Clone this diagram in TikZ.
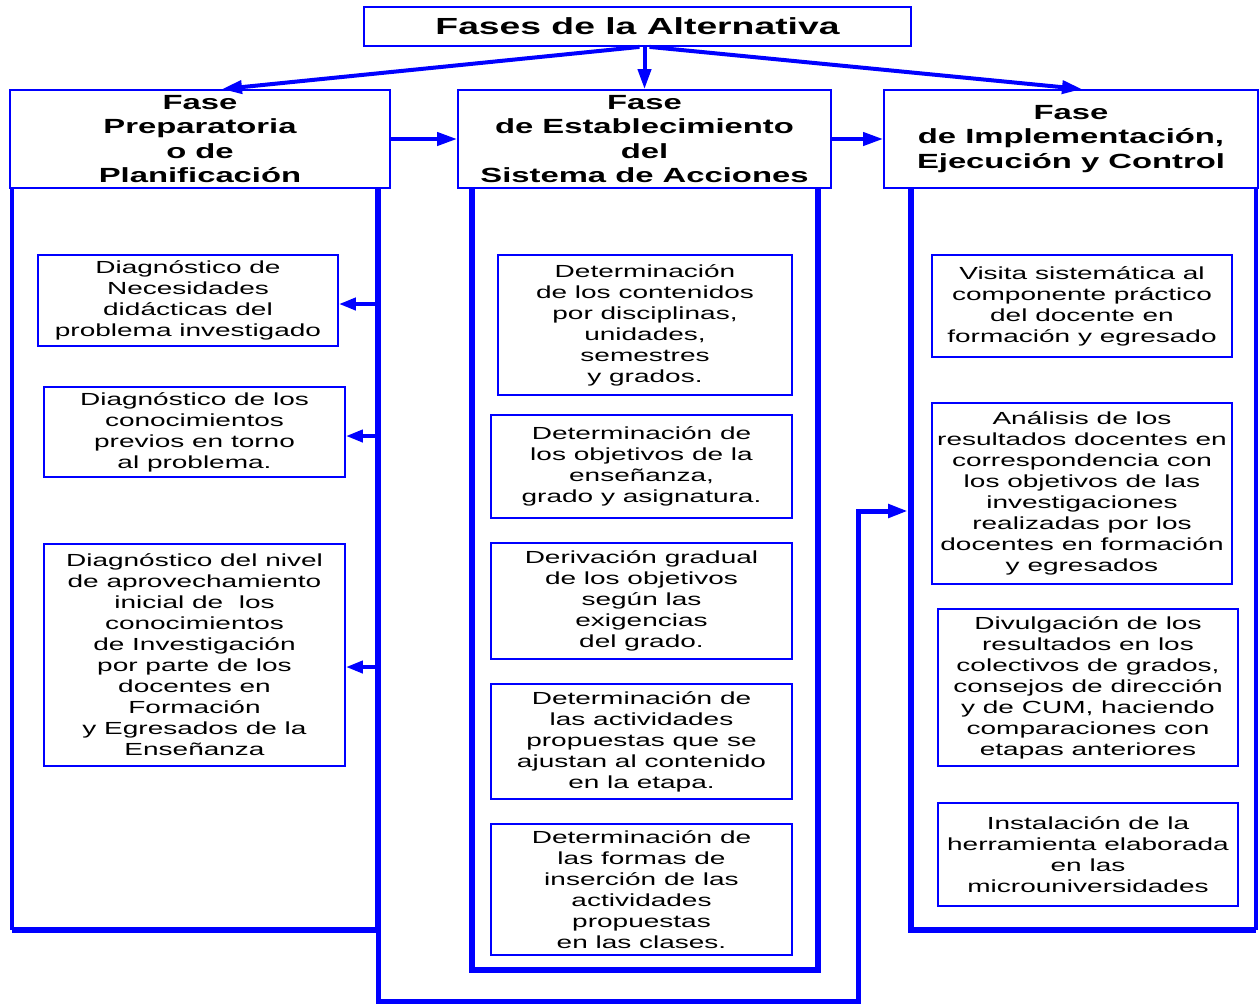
\documentclass[tikz,border=0pt]{standalone}
\usepackage{fontspec}
\setmainfont{Liberation Sans}[FakeStretch=1.6]
\usetikzlibrary{arrows.meta}
\definecolor{fb}{RGB}{0,0,255}
\begin{document}
\begin{tikzpicture}[x=1pt,y=-1pt,
  box/.style={draw=fb, line width=1.8pt, inner sep=0pt, align=center, text=black,
    font=\fontsize{17.5}{21}\selectfont},
  hdr/.style={draw=fb, line width=1.8pt, inner sep=0pt, align=center, text=black, fill=white,
    font=\bfseries\fontsize{20.5}{24.3}\selectfont},
  ttl/.style={draw=fb, line width=1.8pt, inner sep=0pt, align=center, text=black, fill=white,
    font=\bfseries\fontsize{23.3}{28}\selectfont},
  cont/.style={inner sep=0pt},
  thinedge/.style={draw=fb, line width=3.5pt},
  thickedge/.style={draw=fb, line width=6.5pt, line join=miter},
  arr/.style={draw=fb, line width=4pt, -{Triangle[length=20pt,width=13pt]}},
  sarr/.style={draw=fb, line width=4pt, -{Triangle[length=17pt,width=12pt]}},
  conn/.style={draw=fb, line width=5pt, line join=miter, -{Triangle[length=20pt,width=13pt]}}
]
\useasboundingbox (0,0) rectangle (1260,1005);

% containers (invisible nodes, edges drawn below)
\node[cont, minimum width=366pt, minimum height=742pt] (cl) at (195,559) {};
\node[cont, minimum width=346pt, minimum height=782pt] (cm) at (645,579) {};
\node[cont, minimum width=345pt, minimum height=742pt] (cr) at (1083.5,559) {};

\draw[thinedge] (cl.north west) -- (cl.south west);
\draw[thickedge] (cl.south west) -- (cl.south east) -- (cl.north east);
\draw[thickedge] (cm.north west) -- (cm.south west) -- (cm.south east) -- (cm.north east);
\draw[thickedge] (cr.north west) -- (cr.south west) -- (cr.south east);
\draw[thinedge] (cr.south east) -- (cr.north east);

% title and headers
\node[ttl, minimum width=547pt, minimum height=39pt] (t) at (637.5,26.5) {Fases de la Alternativa};
\node[hdr, minimum width=380pt, minimum height=98pt] (hl) at (200,139)
  {Fase\\Preparatoria\\o de\\Planificación};
\node[hdr, minimum width=373pt, minimum height=98pt] (hm) at (644.5,139)
  {Fase\\de Establecimiento\\del\\Sistema de Acciones};
\node[hdr, minimum width=374pt, minimum height=98pt] (hr) at (1071,139)
  {Fase\\de Implementación,\\Ejecución y Control};

% left boxes
\node[box, minimum width=300pt, minimum height=91pt] (l1) at (188,300.5)
  {Diagnóstico de\\Necesidades\\didácticas del\\problema investigado};
\node[box, minimum width=301pt, minimum height=90pt] (l2) at (194.5,432)
  {Diagnóstico de los\\conocimientos\\previos en torno\\al problema.};
\node[box, minimum width=301pt, minimum height=222pt] (l3) at (194.5,655)
  {Diagnóstico del nivel\\de aprovechamiento\\inicial de~ los\\conocimientos\\de Investigación\\por parte de los\\docentes en\\Formación\\y Egresados de la\\Enseñanza};

% middle boxes
\node[box, minimum width=294pt, minimum height=140pt] (m1) at (645,325)
  {Determinación\\de los contenidos\\por disciplinas,\\unidades,\\semestres\\y grados.};
\node[box, minimum width=301pt, minimum height=103pt] (m2) at (641.5,466.5)
  {Determinación de\\los objetivos de la\\enseñanza,\\grado y asignatura.};
\node[box, minimum width=301pt, minimum height=116pt] (m3) at (641.5,601)
  {Derivación gradual\\de los objetivos\\según las\\exigencias\\del grado.};
\node[box, minimum width=301pt, minimum height=115pt] (m4) at (641.5,741.5)
  {Determinación de\\las actividades\\propuestas que se\\ajustan al contenido\\en la etapa.};
\node[box, minimum width=301pt, minimum height=131pt] (m5) at (641.5,889.5)
  {Determinación de\\las formas de\\inserción de las\\actividades\\propuestas\\en las clases.};

% right boxes
\node[box, minimum width=300pt, minimum height=102pt] (r1) at (1082,306)
  {Visita sistemática al\\componente práctico\\del docente en\\formación y egresado};
\node[box, minimum width=300pt, minimum height=181pt] (r2) at (1082,493.5)
  {Análisis de los\\resultados docentes en\\correspondencia con\\los objetivos de las\\investigaciones\\realizadas por los\\docentes en formación\\y egresados};
\node[box, minimum width=300pt, minimum height=157pt] (r3) at (1088,687.5)
  {Divulgación de los\\resultados en los\\colectivos de grados,\\consejos de dirección\\y de CUM, haciendo\\comparaciones con\\etapas anteriores};
\node[box, minimum width=300pt, minimum height=103pt] (r4) at (1088,854.5)
  {Instalación de la\\herramienta elaborada\\en las\\microuniversidades};

% arrows from title
\draw[arr] ([xshift=2pt]t.south) -- ([xshift=22pt]hl.north);
\draw[arr] ([xshift=7pt]t.south) -- (hm.north);
\draw[arr] ([xshift=12pt]t.south) -- ([xshift=11pt]hr.north);

% arrows between headers
\draw[arr] (hl.east) -- (hm.west);
\draw[arr] (hm.east) -- (hr.west);

% arrows to left boxes
\draw[sarr] ([yshift=-3.5pt]l1.east -| cl.east) -- ([yshift=-3.5pt]l1.east);
\draw[sarr] ([yshift=-4pt]l2.east -| cl.east) -- ([yshift=-4pt]l2.east);
\draw[sarr] ([yshift=-12pt]l3.east -| cl.east) -- ([yshift=-12pt]l3.east);

% connector from left column to right column
\coordinate (bot) at (858,1001);
\coordinate (rin) at (908,511);
\draw[conn] (cl.south east) |- (bot) |- (rin);
\end{tikzpicture}
\end{document}
